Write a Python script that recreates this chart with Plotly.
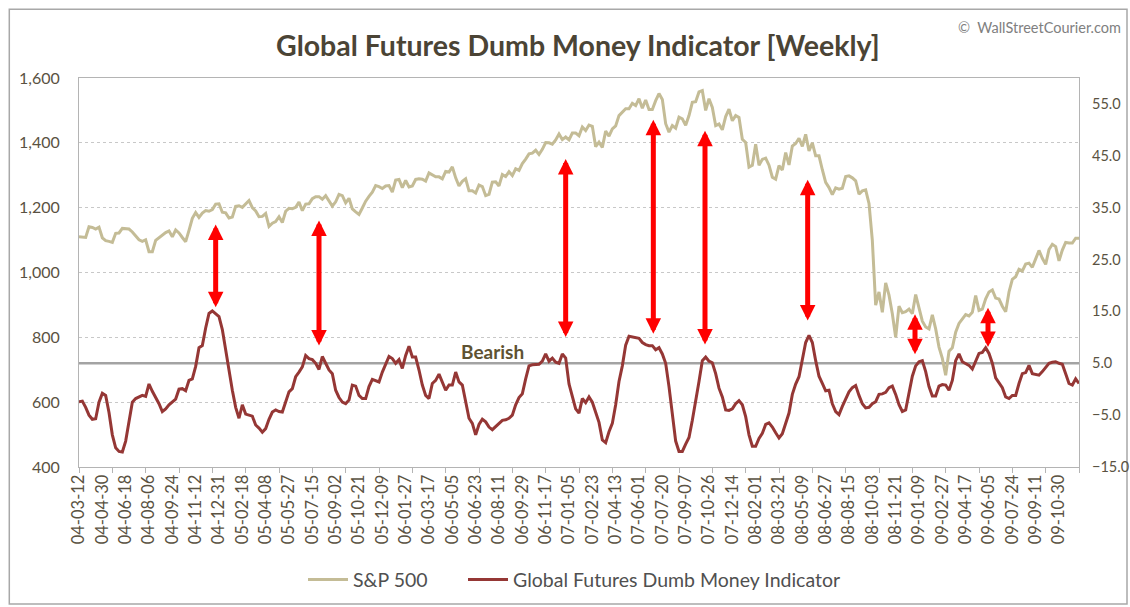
import pandas as pd
import plotly.graph_objects as go

# Weekly S&P 500 closes, 2004-03-12 .. 2009-12-11
SP500 = [
    # 2004
    1110, 1109, 1108, 1141, 1139, 1134, 1140, 1107, 1098, 1096,
    1093, 1121, 1122, 1136, 1135, 1134, 1125, 1112, 1101, 1096,
    1101, 1064, 1064, 1099, 1107, 1113, 1123, 1128, 1110, 1131,
    1122, 1108, 1095, 1130, 1167, 1185, 1170, 1183, 1191, 1189,
    1194, 1211, 1212,
    # 2005
    1186, 1184, 1168, 1171, 1204, 1206, 1201, 1211, 1222, 1200,
    1190, 1172, 1173, 1182, 1142, 1152, 1157, 1172, 1154, 1189,
    1198, 1197, 1201, 1217, 1191, 1211, 1212, 1228, 1234, 1234,
    1226, 1237, 1220, 1205, 1218, 1241, 1237, 1215, 1229, 1196,
    1187, 1179, 1199, 1220, 1235, 1248, 1268, 1265, 1259, 1267,
    1268, 1248,
    # 2006
    1285, 1287, 1262, 1284, 1264, 1267, 1287, 1289, 1288, 1282,
    1307, 1302, 1295, 1295, 1289, 1312, 1310, 1326, 1292, 1267,
    1281, 1289, 1252, 1252, 1245, 1270, 1265, 1237, 1241, 1279,
    1280, 1267, 1302, 1296, 1311, 1299, 1320, 1315, 1336, 1350,
    1366, 1368, 1377, 1364, 1380, 1401, 1400, 1396, 1409, 1427,
    1410, 1418,
    # 2007
    1409, 1430, 1430, 1422, 1449, 1438, 1455, 1451, 1388, 1402,
    1386, 1436, 1421, 1443, 1452, 1484, 1494, 1505, 1505, 1522,
    1515, 1536, 1507, 1532, 1503, 1503, 1530, 1552, 1534, 1459,
    1433, 1453, 1445, 1479, 1474, 1454, 1484, 1525, 1527, 1557,
    1561, 1500, 1536, 1509, 1453, 1458, 1440, 1481, 1504, 1468,
    1484, 1478,
    # 2008
    1411, 1401, 1325, 1331, 1396, 1331, 1349, 1353, 1331, 1294,
    1288, 1330, 1316, 1370, 1332, 1390, 1398, 1414, 1389, 1426,
    1375, 1400, 1360, 1360, 1317, 1278, 1262, 1240, 1261, 1257,
    1260, 1296, 1298, 1292, 1283, 1242, 1252, 1255, 1213, 1099,
    899, 940, 877, 968, 930, 873, 800, 896, 876, 879,
    887, 873,
    # 2009
    932, 890, 850, 832, 826, 869, 826, 770, 735, 683,
    757, 768, 816, 843, 857, 870, 866, 877, 929, 883,
    887, 919, 940, 946, 921, 918, 896, 879, 940, 979,
    987, 1010, 1005, 1026, 1029, 1016, 1042, 1068, 1044, 1025,
    1071, 1087, 1080, 1036, 1069, 1093, 1091, 1091, 1106, 1106,
]

# Global Futures Dumb Money Indicator, same weeks
DUMB_MONEY = [
    -2.4, -2.3, -3.5, -5.0, -5.8, -5.7, -2.5, -0.8, -1.2, -4.5,
    -8.8, -11.3, -12.0, -12.1, -10.0, -6.0, -2.5, -1.8, -1.5, -1.2,
    -1.4, 1.0, -0.4, -1.5, -2.8, -4.3, -3.8, -3.0, -2.5, -1.9,
    0.0, 0.1, -0.3, 1.7, 2.0, 4.4, 8.0, 8.4, 11.8, 14.6,
    15.1, 14.5, 14.0, 11.5, 7.5, 3.6, -0.2, -3.5, -5.6, -3.0,
    -4.8, -5.0, -5.2, -6.9, -7.5, -8.3, -7.6, -5.8, -4.4, -4.0,
    -4.3, -4.4, -2.4, -0.5, 0.1, 2.4, 3.3, 4.3, 6.5, 5.9,
    5.7, 5.0, 3.8, 6.3, 5.0, 3.7, 3.0, -0.2, -1.6, -2.5,
    -2.8, -2.1, 0.8, 0.6, -1.2, -1.8, -1.8, 0.5, 1.9, 1.6,
    1.4, 3.3, 4.9, 6.3, 5.9, 5.0, 5.7, 4.0, 6.5, 8.3,
    6.2, 6.2, 3.7, 0.8, -1.2, -1.8, 1.1, 1.7, 2.9, 1.2,
    -0.2, 0.8, 0.8, 3.3, 1.4, 0.8, -2.1, -5.6, -6.6, -8.8,
    -6.8, -5.8, -6.3, -7.3, -7.8, -7.2, -6.6, -6.0, -5.9, -5.6,
    -5.0, -3.0, -1.6, -0.9, 2.0, 4.5, 4.7, 4.8, 4.8, 5.4,
    6.8, 5.4, 6.0, 5.2, 5.0, 6.8, 6.0, 1.0, -1.5, -3.8,
    -4.6, -1.8, -2.6, -1.5, -2.5, -4.3, -6.4, -9.8, -10.3, -8.2,
    -6.6, -3.0, 1.5, 4.5, 8.5, 10.2, 10.1, 9.9, 9.8, 9.0,
    8.6, 8.4, 8.4, 7.6, 8.0, 6.8, 5.0, 0.5, -5.0, -10.0,
    -12.0, -12.0, -10.6, -9.3, -6.0, -2.5, 1.5, 5.5, 6.2, 5.4,
    5.1, 3.0, 0.2, -1.5, -4.0, -4.1, -3.8, -2.8, -2.2, -3.0,
    -5.3, -8.8, -11.0, -11.0, -9.5, -8.5, -6.8, -6.5, -7.3, -8.4,
    -9.4, -8.6, -6.5, -4.6, -1.0, 1.0, 2.4, 6.0, 9.0, 10.4,
    9.0, 5.5, 2.5, 1.1, -0.3, -0.2, -2.8, -4.3, -4.9, -3.3,
    -1.8, -0.5, 0.3, 0.7, -1.2, -2.8, -3.6, -3.5, -2.8, -2.4,
    -1.0, -0.9, -0.6, 0.3, 0.6, -1.0, -3.0, -4.3, -4.0, -1.0,
    2.5, 4.5, 5.3, 5.5, 3.4, 0.5, -1.3, -1.3, 0.6, 0.9,
    0.8, -0.2, 1.7, 5.5, 6.8, 5.3, 5.0, 4.6, 3.9, 5.6,
    6.9, 7.1, 8.0, 6.9, 5.0, 2.2, 1.2, 0.3, -1.5, -1.8,
    -1.2, -1.2, 1.1, 3.0, 3.2, 4.6, 3.0, 2.8, 2.7, 3.4,
    4.2, 5.0, 5.2, 5.3, 5.0, 4.8, 3.0, 1.1, 0.8, 2.0,
    1.1,
]

BEARISH_LEVEL = 5.0

# Week-ending dates used as category labels
WEEKS = list(pd.date_range("2004-03-12", periods=len(SP500), freq="7D").strftime("%y-%m-%d"))
LABEL_EVERY = 7
TICK_EVERY = 10
LABEL_POS = list(range(0, len(WEEKS), LABEL_EVERY))
TICK_LABELS = [WEEKS[i] for i in LABEL_POS]

# Divergence markers: week position, S&P-scale top and bottom of each double arrow
ARROW_WEEK = [41, 72, 146, 172.3, 187.8, 218.6, 250.8, 272.7]
ARROW_TOP = [1153, 1165, 1355, 1476, 1442, 1291, 876, 896]
ARROW_BOTTOM = [893, 775, 801, 811, 778, 852, 748, 770]

FONT = "Lato"
TEXT = "#5a5242"
TAN = "#c4bc96"
DARK_RED = "#953735"
FRAME = "#b4b4b4"

x = list(range(len(SP500)))
last = len(SP500) - 1

fig = go.Figure()
fig.add_trace(go.Scatter(
    x=x, y=SP500, name="S&P 500", mode="lines",
    line=dict(color=TAN, width=3), xaxis="x", yaxis="y", legend="legend",
))
fig.add_trace(go.Scatter(
    x=list(range(len(DUMB_MONEY))), y=DUMB_MONEY,
    name="Global Futures Dumb Money Indicator", mode="lines",
    line=dict(color=DARK_RED, width=3), xaxis="x", yaxis="y2", legend="legend2",
))

annotations = []
for wk, top, bot in zip(ARROW_WEEK, ARROW_TOP, ARROW_BOTTOM):
    annotations.append(dict(
        x=wk, y=bot, ax=wk, ay=top, xref="x", yref="y", axref="x", ayref="y",
        text="", showarrow=True, arrowside="end+start",
        arrowhead=2, startarrowhead=2, arrowsize=0.62, startarrowsize=0.62,
        arrowwidth=5, arrowcolor="#ff0000", standoff=0, startstandoff=0,
    ))

annotations += [
    dict(text="<b>Global Futures Dumb Money Indicator [Weekly]</b>",
         x=0.4985, y=1.085, xref="paper", yref="paper", showarrow=False,
         xanchor="center", yanchor="middle",
         font=dict(family=FONT, size=28.5, color="#4b4435")),
    dict(text="©  WallStreetCourier.com", x=1.044, y=1.131, xref="paper", yref="paper",
         showarrow=False, xanchor="right", yanchor="middle",
         font=dict(family=FONT, size=14.5, color="#808080")),
    dict(text="<b>Bearish</b>", x=124, y=7.3, xref="x", yref="y2", showarrow=False,
         xanchor="center", yanchor="middle",
         font=dict(family=FONT, size=19, color="#5e5232")),
]

legend_style = dict(orientation="h", xanchor="left", y=-0.29, yanchor="middle",
                    itemwidth=40, bgcolor="rgba(0,0,0,0)",
                    font=dict(family=FONT, size=19.5, color="#505050"))

fig.update_layout(
    width=1130, height=607,
    margin=dict(l=79, r=51, t=78, b=140, autoexpand=False),
    paper_bgcolor="white", plot_bgcolor="white",
    font=dict(family=FONT, size=16, color=TEXT),
    showlegend=True,
    legend=dict(x=0.224, **legend_style),
    legend2=dict(x=0.384, **legend_style),
    xaxis=dict(
        range=[0, last], tickmode="array", tickvals=LABEL_POS, ticktext=TICK_LABELS,
        tickangle=-90, ticks="", showgrid=False, zeroline=False,
        showline=True, linecolor=FRAME, linewidth=1, mirror=True,
        tickfont=dict(family=FONT, size=16.5, color=TEXT), automargin=False,
    ),
    xaxis2=dict(
        matches="x", overlaying="x", anchor="y", side="bottom",
        tickmode="linear", tick0=0, dtick=TICK_EVERY, ticks="outside", ticklen=5,
        tickcolor=FRAME, showticklabels=False, showgrid=False, zeroline=False,
        showline=False, automargin=False,
    ),
    yaxis=dict(
        range=[400, 1600], dtick=200, tickformat=",", ticks="",
        showgrid=True, gridcolor="#c8c8c8", griddash="dot", gridwidth=1,
        zeroline=False, showline=True, linecolor=FRAME, linewidth=1, mirror=True,
        ticklabelstandoff=15, tickfont=dict(family=FONT, size=16, color=TEXT),
        automargin=False,
    ),
    yaxis2=dict(
        overlaying="y", side="right", range=[-15, 60],
        tickvals=[-15, -5, 5, 15, 25, 35, 45, 55], tickformat=".1f", ticks="",
        showgrid=False, zeroline=False, showline=False,
        ticklabelstandoff=12, tickfont=dict(family=FONT, size=14.5, color=TEXT),
        automargin=False,
    ),
    shapes=[
        dict(type="line", xref="paper", x0=0, x1=1, yref="y2",
             y0=BEARISH_LEVEL, y1=BEARISH_LEVEL, layer="below",
             line=dict(color="#a3a3a3", width=2.5)),
        dict(type="rect", xref="paper", yref="paper", x0=-0.0697, x1=1.048,
             y0=-0.352, y1=1.1766, layer="below",
             line=dict(color="#a8a8a8", width=1.5)),
    ],
    annotations=annotations,
)

# Invisible companion trace so the 10-week tick axis is rendered
fig.add_trace(go.Scatter(x=[0], y=[None], xaxis="x2", yaxis="y", mode="lines",
                         showlegend=False, hoverinfo="skip"))

fig.write_html("out.html")
